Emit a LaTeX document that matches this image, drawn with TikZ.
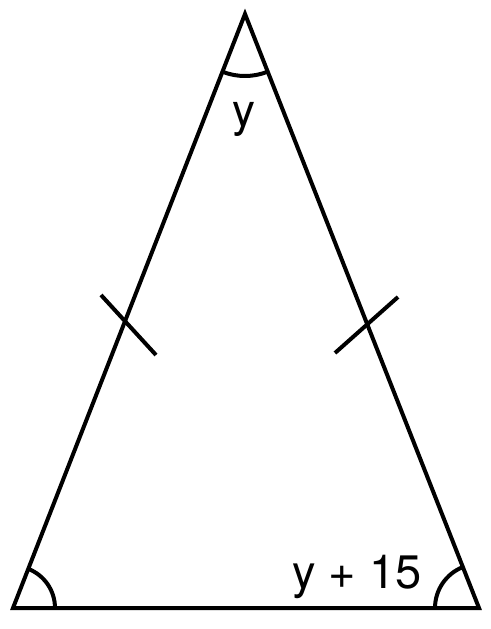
\documentclass[tikz,border=0pt]{standalone}
\usepackage{fontspec}
\setmainfont{TeX Gyre Heros}
\usetikzlibrary{angles}

\begin{document}
\begin{tikzpicture}[x=1pt,y=-1pt,line width=4pt,line join=miter]
\useasboundingbox (0,0) rectangle (490,629);
\coordinate (top)   at (245,14);
\coordinate (left)  at (13,608);
\coordinate (right) at (479,608);

\draw (left) -- (top) -- (right) -- cycle;

% equal sides
\draw (101,295) -- (156,355);
\draw (335,353) -- (398,297);

% angle marks
\pic [draw,angle radius=62pt] {angle=left--top--right};
\pic [draw,angle radius=42pt] {angle=right--left--top};
\pic [draw,angle radius=44pt] {angle=top--right--left};

\node [anchor=base,font=\fontsize{46}{52}\selectfont] (topangle)   at (244,126) {y};
\node [anchor=base,font=\fontsize{47}{52}\selectfont] (rightangle) at (357,588) {y + 15};
\end{tikzpicture}
\end{document}
